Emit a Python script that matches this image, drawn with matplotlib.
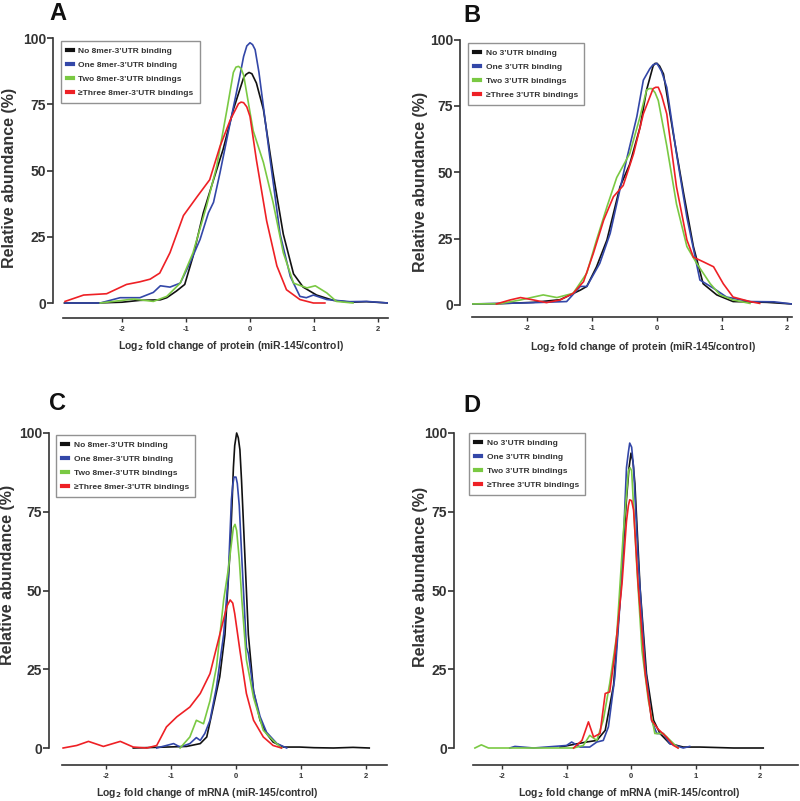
import numpy as np
import matplotlib
matplotlib.use('Agg')
from matplotlib import pyplot as plt

plt.rcParams['font.family'] = ['Liberation Sans', 'DejaVu Sans']
plt.rcParams['font.weight'] = 'bold'
plt.rcParams['axes.unicode_minus'] = False

W, H = 800, 801
TXT = '#333333'
COLORS = ['#111111', '#3347a8', '#7ac943', '#ee2025']

labels_8mer = ['No 8mer-3\u2019UTR binding', 'One 8mer-3\u2019UTR binding',
               'Two 8mer-3\u2019UTR bindings', '\u2265Three 8mer-3\u2019UTR bindings']
labels_utr = ['No 3\u2019UTR binding', 'One 3\u2019UTR binding',
              'Two 3\u2019UTR bindings', '\u2265Three 3\u2019UTR bindings']
yticks = [0, 25, 50, 75, 100]
xticks = [-2, -1, 0, 1, 2]

# panel A: protein, 8mer sites
a_no_x = [-2.9, -2.4, -2.0, -1.72, -1.4, -1.3, -1.15, -1.02, -0.89, -0.73, -0.57, -0.42, -0.26, -0.10, -0.06, -0.015, 0.03, 0.1, 0.21, 0.36, 0.52, 0.68, 0.83, 1.04, 1.3, 1.56, 1.82, 2.16]
a_no_y = [0, 0, 0.3, 1, 1.2, 2, 4.5, 7, 17.6, 34, 46.5, 58, 73, 85, 86.3, 87, 86.5, 83, 73, 49, 26, 11, 6, 3, 1, 0.3, 0.5, 0]
a_one_x = [-2.89, -2.34, -2.03, -1.72, -1.51, -1.4, -1.25, -1.09, -0.94, -0.78, -0.65, -0.57, -0.47, -0.31, -0.16, -0.1, -0.05, 0, 0.04, 0.08, 0.14, 0.21, 0.31, 0.47, 0.63, 0.78, 0.88, 0.99, 1.2, 1.56, 1.82, 2.16]
a_one_y = [0, 0, 2, 2, 4, 6.5, 6, 7.5, 15, 24, 34, 38, 49, 68, 85.5, 93, 97, 98.2, 97.5, 95.6, 87, 74, 55, 26, 10, 2.5, 2, 3, 1.3, 0.5, 0.6, 0]
a_two_x = [-2.34, -1.82, -1.51, -1.3, -1.09, -0.89, -0.68, -0.52, -0.36, -0.26, -0.22, -0.18, -0.14, -0.10, 0.05, 0.21, 0.36, 0.52, 0.68, 0.89, 1.02, 1.2, 1.35, 1.61]
a_two_y = [0, 1.5, 0.6, 2.5, 7.5, 19, 36.5, 51.6, 73, 87, 89, 89.3, 88.5, 86, 65, 53, 38, 19, 7.5, 5.7, 6.5, 3.8, 0.6, 0]
a_three_x = [-2.89, -2.6, -2.24, -1.93, -1.72, -1.56, -1.41, -1.25, -1.04, -0.83, -0.63, -0.47, -0.31, -0.18, -0.14, -0.10, -0.05, 0, 0.10, 0.26, 0.42, 0.57, 0.78, 0.99, 1.17]
a_three_y = [0.6, 3, 3.5, 7, 8, 9, 11.3, 19, 33, 40, 46.5, 59, 69, 75.2, 75.8, 75.6, 74, 70.4, 54, 31, 14, 5, 1.3, 0, 0]

# panel B: protein, all 3'UTR sites
b_no_x = [-2.85, -2.42, -1.9, -1.49, -1.18, -1.08, -0.93, -0.77, -0.67, -0.57, -0.42, -0.26, -0.16, -0.06, -0.03, 0, 0.04, 0.10, 0.25, 0.41, 0.56, 0.71, 0.92, 1.17, 1.69, 2.07]
b_no_y = [0.4, 0.5, 1, 2, 5.6, 7, 14.4, 24.5, 34.5, 44.5, 53, 67, 81, 90, 91, 91, 90, 87, 64.6, 42, 22, 8, 3.8, 1.3, 1, 0.4]
b_one_x = [-2.85, -2.0, -1.39, -1.18, -1.08, -0.88, -0.72, -0.62, -0.47, -0.31, -0.21, -0.11, -0.06, 0, 0.07, 0.15, 0.30, 0.46, 0.66, 0.87, 1.07, 1.43, 1.8, 2.07]
b_one_y = [0.4, 0.8, 1.3, 7, 7, 15.7, 27, 38, 54.6, 71, 84.7, 89, 90.5, 91, 88, 82, 57, 33, 9.4, 6.3, 3, 1.3, 1.2, 0.4]
b_two_x = [-2.85, -2.42, -2.1, -1.9, -1.75, -1.54, -1.29, -1.08, -0.93, -0.77, -0.62, -0.42, -0.26, -0.16, -0.12, -0.08, -0.03, 0.02, 0.15, 0.30, 0.46, 0.61, 0.82, 0.97, 1.17, 1.43]
b_two_y = [0.4, 0.5, 1.9, 3, 3.8, 2.8, 4.4, 12, 24.5, 37, 48, 57, 71, 81, 81.5, 81.5, 80, 77, 60, 38, 22, 15.7, 8, 3.8, 1.9, 0.6]
b_three_x = [-2.47, -2.26, -2.1, -1.9, -1.7, -1.49, -1.29, -1.13, -0.98, -0.82, -0.67, -0.52, -0.36, -0.21, -0.06, -0.02, 0.02, 0.07, 0.15, 0.30, 0.46, 0.56, 0.71, 0.87, 1.02, 1.17, 1.43, 1.58]
b_three_y = [0.4, 1.9, 2.8, 1.9, 0.9, 1.9, 4.4, 8.8, 19.4, 32, 40.8, 45, 57, 72, 81.5, 82, 82, 79, 72, 44.5, 24.5, 18, 16.3, 14.4, 8, 3, 1.3, 0.6]

# panel C: mRNA, 8mer sites
c_no_x = [-1.58, -1.07, -0.76, -0.55, -0.45, -0.35, -0.25, -0.17, -0.09, -0.06, -0.04, -0.02, 0.01, 0.035, 0.06, 0.085, 0.11, 0.19, 0.27, 0.37, 0.47, 0.57, 0.73, 0.98, 1.2, 1.5, 1.8, 2.05]
c_no_y = [0, 0.3, 0.5, 1.4, 3.5, 13, 22.6, 36, 63, 78, 89, 96, 100, 98.5, 94.7, 85, 73.5, 36, 18, 8.8, 4.6, 1.9, 0.3, 0.3, 0.1, 0, 0.2, 0]
c_one_x = [-1.22, -1.07, -0.96, -0.86, -0.71, -0.61, -0.55, -0.48, -0.40, -0.30, -0.19, -0.12, -0.07, -0.05, -0.03, 0, 0.02, 0.05, 0.09, 0.16, 0.19, 0.27, 0.37, 0.47, 0.63, 0.78]
c_one_y = [0, 0.8, 1.4, 0.3, 1.4, 3.3, 2.4, 4.6, 8.8, 19.4, 36, 54, 79, 83.5, 86, 86, 84, 77, 60, 32, 30, 18, 10, 5, 1.4, 0]
c_two_x = [-0.86, -0.71, -0.61, -0.50, -0.40, -0.30, -0.19, -0.12, -0.04, -0.015, 0.01, 0.05, 0.09, 0.16, 0.27, 0.42, 0.57, 0.70]
c_two_y = [0, 3.5, 8.8, 7.7, 15, 25.8, 47, 56.5, 70, 71, 69, 60, 47, 28, 16, 5.6, 2.4, 0]
c_three_x = [-2.66, -2.45, -2.27, -2.04, -1.78, -1.58, -1.37, -1.22, -1.07, -0.91, -0.71, -0.55, -0.40, -0.25, -0.14, -0.09, -0.05, -0.02, 0.06, 0.16, 0.27, 0.42, 0.57, 0.70]
c_three_y = [0, 0.8, 2.1, 0.5, 2.1, 0.3, 0, 0.8, 6.7, 9.9, 13, 17.3, 23.6, 36, 45, 47, 46, 42.7, 31, 17.3, 8.8, 3.5, 0.8, 0]

# panel D: mRNA, all 3'UTR sites
d_no_x = [-1.1, -0.69, -0.53, -0.40, -0.27, -0.17, -0.07, -0.03, 0, 0.03, 0.06, 0.14, 0.24, 0.35, 0.45, 0.60, 0.81, 1.07, 1.59, 2.05]
d_no_y = [0.3, 1.9, 2.4, 5.6, 20, 47, 79, 89, 93.6, 91, 84, 51, 23.6, 8.8, 4.6, 1.4, 0.3, 0.3, 0, 0]
d_one_x = [-1.88, -1.8, -1.51, -1.0, -0.92, -0.79, -0.64, -0.53, -0.43, -0.35, -0.25, -0.14, -0.07, -0.04, -0.02, 0.01, 0.04, 0.11, 0.22, 0.32, 0.40, 0.50, 0.60, 0.81, 0.91]
d_one_y = [0, 0.5, 0, 0.8, 1.9, 0.3, 0.3, 1.9, 2.4, 6.7, 22.6, 55, 89, 94, 96.8, 95.5, 89, 60, 25.8, 8.8, 4.6, 4.6, 1.4, 0, 0.5]
d_two_x = [-2.42, -2.32, -2.21, -1.5, -0.89, -0.74, -0.64, -0.53, -0.43, -0.33, -0.22, -0.12, -0.04, -0.015, 0.01, 0.09, 0.17, 0.27, 0.37, 0.50, 0.66, 0.73]
d_two_y = [0, 1, 0, 0, 0, 0.8, 4, 2.4, 8.8, 20.5, 36, 68, 88, 89, 88, 57.6, 31, 15, 4.6, 4.6, 1.4, 0]
d_three_x = [-0.89, -0.76, -0.66, -0.58, -0.48, -0.40, -0.33, -0.25, -0.14, -0.07, -0.04, -0.02, 0.01, 0.04, 0.11, 0.22, 0.32, 0.42, 0.55, 0.66, 0.73]
d_three_y = [0, 2.4, 8.3, 3.5, 4.6, 17.3, 17.8, 30, 52, 72, 77, 78.8, 78.5, 75.6, 52, 23.6, 8.8, 6, 3.5, 0.8, 0]

# layout in pixels (top-left origin):
# zero_px, px per unit, axis left, axis right, y0 px, y100 px, x-axis px, y-spine px
layout = {
    'A': (250, 64.0, 63, 388, 303, 38, 318, 53),
    'B': (657, 65.0, 472, 792, 305, 39.5, 316.5, 460),
    'C': (236, 65.0, 62, 387, 748, 433, 765, 49),
    'D': (631, 64.5, 473, 798, 748, 433, 765, 454),
}
# letter, y-label, x-label, legend top-left (pixels)
texts = {
    'A': ((58, 13), (10, 178), (231, 346), (61, 41)),
    'B': ((472, 15), (420, 182), (643, 347), (468, 43)),
    'C': ((58, 403), (8, 575), (207, 793), (56, 435)),
    'D': ((472, 405), (420, 577), (629, 793), (469, 433)),
}
xlabels = {'A': 'protein', 'B': 'protein', 'C': 'mRNA', 'D': 'mRNA'}
curves = {
    'A': [(a_no_x, a_no_y), (a_one_x, a_one_y), (a_two_x, a_two_y), (a_three_x, a_three_y)],
    'B': [(b_no_x, b_no_y), (b_one_x, b_one_y), (b_two_x, b_two_y), (b_three_x, b_three_y)],
    'C': [(c_no_x, c_no_y), (c_one_x, c_one_y), (c_two_x, c_two_y), (c_three_x, c_three_y)],
    'D': [(d_no_x, d_no_y), (d_one_x, d_one_y), (d_two_x, d_two_y), (d_three_x, d_three_y)],
}
legend_labels = {'A': labels_8mer, 'B': labels_utr, 'C': labels_8mer, 'D': labels_utr}

fig = plt.figure(figsize=(W / 100, H / 100), dpi=100)


def fx(px):
    return px / W


def fy(py):
    return 1 - py / H


for key in ['A', 'B', 'C', 'D']:
    zero, ppu, left, right, y0, y100, xax, ysp = layout[key]
    ppy = (y0 - y100) / 100.0
    top = y100 - 3 * ppy
    ax = fig.add_axes([fx(left), fy(xax), fx(right - left), (xax - top) / H])
    ax.set_xlim((left - zero) / ppu, (right - zero) / ppu)
    ax.set_ylim(-(xax - y0) / ppy, 103)

    for (x, y), c, lab in zip(curves[key], COLORS, legend_labels[key]):
        ax.plot(x, y, color=c, lw=1.2, label=lab, solid_joinstyle='round')

    for s in ['top', 'right']:
        ax.spines[s].set_visible(False)
    ax.spines['left'].set_position(('outward', (left - ysp) * 0.72))
    ax.spines['left'].set_bounds(0, 100)
    for s in ['left', 'bottom']:
        ax.spines[s].set_linewidth(1.2)
        ax.spines[s].set_color(TXT)

    ax.set_yticks(yticks)
    ax.set_xticks(xticks)
    ax.tick_params(axis='y', direction='out', length=4, width=1.2, color=TXT,
                   labelsize=10, labelcolor=TXT, pad=1)
    ax.tick_params(axis='x', direction='out', length=3, width=1.0, color=TXT,
                   labelsize=5.5, labelcolor=TXT, pad=3)
    for t in ax.get_xticklabels() + ax.get_yticklabels():
        t.set_fontweight('bold')

    (lx, ly), (yx, yy), (xx, xy), (gx, gy) = texts[key]
    fig.text(fx(lx), fy(ly), key, fontsize=17, fontweight='bold', color='#111111',
             ha='center', va='center')
    fig.text(fx(yx), fy(yy), 'Relative abundance (%)', fontsize=11.5, fontweight='bold',
             color=TXT, rotation=90, ha='center', va='center')
    fig.text(fx(xx), fy(xy), 'Log$_2$ fold change of %s (miR-145/control)' % xlabels[key],
             fontsize=7.5, fontweight='bold', color=TXT, ha='center', va='center')

    leg = ax.legend(loc='upper left', bbox_to_anchor=(fx(gx), fy(gy)),
                    bbox_transform=fig.transFigure, borderaxespad=0, fontsize=6,
                    frameon=True, fancybox=False, handlelength=0.7, handletextpad=0.7,
                    labelspacing=0.75, borderpad=0.7)
    leg.get_frame().set_edgecolor('#777777')
    leg.get_frame().set_linewidth(1.0)
    for h in leg.get_lines():
        h.set_linewidth(3)
    for t in leg.get_texts():
        t.set_color(TXT)
        t.set_fontweight('bold')

fig.savefig('out.png', dpi=100)
